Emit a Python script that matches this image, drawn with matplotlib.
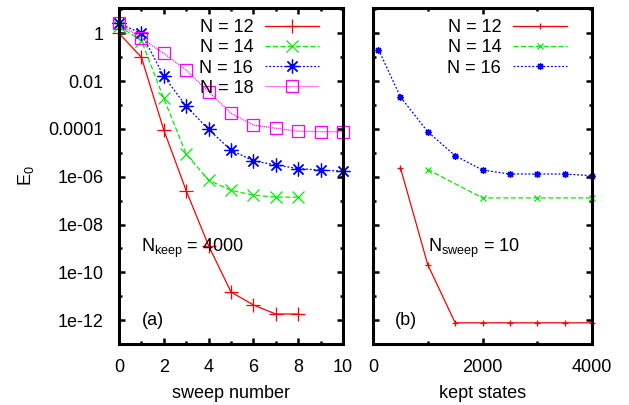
import matplotlib
matplotlib.use("Agg")
import matplotlib.pyplot as plt
from matplotlib.ticker import FixedLocator, NullFormatter

plt.rcParams["font.family"] = ["Liberation Sans", "DejaVu Sans"]
plt.rcParams["mathtext.fontset"] = "custom"
plt.rcParams["mathtext.rm"] = "Liberation Sans"
plt.rcParams["font.size"] = 13

# (a) energy error vs sweep number, N_keep = 4000
sweeps_a = [0, 1, 2, 3, 4, 5, 6, 7, 8]
sweeps_b = [0, 1, 2, 3, 4, 5, 6, 7, 8, 9, 10]
e_n12 = [1.0, 0.1, 9e-5, 2.6e-7, 1.3e-9, 1.5e-11, 4.3e-12, 1.8e-12, 1.8e-12]
e_n14 = [2.0, 0.5, 1.9e-3, 8.9e-6, 7.2e-7, 2.7e-7, 1.7e-7, 1.4e-7, 1.4e-7]
e_n16 = [2.6, 1.0, 0.016, 9e-4, 9.5e-5, 1.3e-5, 4.6e-6, 3.1e-6, 2.2e-6, 1.9e-6, 1.7e-6]
e_n18 = [2.6, 0.62, 0.145, 0.029, 0.0036, 4.5e-4, 1.45e-4, 1.06e-4, 8.1e-5, 7.7e-5, 7.7e-5]

# (b) energy error vs kept states, N_sweep = 10
kept_n12 = [500, 1000, 1500, 2000, 2500, 3000, 3500, 4000]
f_n12 = [2.4e-6, 2.1e-10, 7.7e-13, 7.7e-13, 7.7e-13, 7.7e-13, 7.7e-13, 7.7e-13]
kept_n14 = [1000, 2000, 3000, 4000]
f_n14 = [2.0e-6, 1.3e-7, 1.3e-7, 1.3e-7]
kept_n16 = [100, 500, 1000, 1500, 2000, 2500, 3000, 3500, 4000]
f_n16 = [0.21, 0.0022, 7.6e-5, 7.6e-6, 1.9e-6, 1.3e-6, 1.3e-6, 1.3e-6, 1.1e-6]

ytick_vals = [1, 1e-2, 1e-4, 1e-6, 1e-8, 1e-10, 1e-12]
ytick_labels = ["1", "0.01", "0.0001", "1e-06", "1e-08", "1e-10", "1e-12"]
yminor_vals = [10, 0.1, 1e-3, 1e-5, 1e-7, 1e-9, 1e-11, 1e-13]

red = "#ff0000"
green = "#00ee00"
blue = "#0000ff"
magenta = "#ff00ff"
asterisk = (8, 2, 0)

fig = plt.figure(figsize=(6.29, 4.05), dpi=100)
ax1 = fig.add_axes([119 / 629, 61 / 405, 224 / 629, 336 / 405])
ax2 = fig.add_axes([373 / 629, 61 / 405, 219 / 629, 336 / 405])

kw = dict(lw=0.9, clip_on=False, mew=0.9)
ax1.plot(sweeps_a, e_n12, color=red, marker="+", ms=10, ls="-", label="N = 12", **kw)
ax1.plot(sweeps_a, e_n14, color=green, marker="x", ms=8.5, dashes=(4, 2), label="N = 14", **kw)
ax1.plot(sweeps_b, e_n16, color=blue, marker=asterisk, ms=10, dashes=(1.5, 1.5), label="N = 16", **kw)
ax1.plot(sweeps_b, e_n18, color=magenta, marker="s", ms=8.5, mfc="none", dashes=(0.8, 0.8),
         label="N = 18", **kw)

ax2.plot(kept_n12, f_n12, color=red, marker="+", ms=5, ls="-", label="N = 12", **kw)
ax2.plot(kept_n14, f_n14, color=green, marker="x", ms=4.5, dashes=(4, 2), label="N = 14", **kw)
ax2.plot(kept_n16, f_n16, color=blue, marker=asterisk, ms=5, dashes=(1.5, 1.5), label="N = 16", **kw)

for ax in (ax1, ax2):
    ax.set_yscale("log")
    ax.set_ylim(1e-13, 11.5)
    ax.yaxis.set_major_locator(FixedLocator(ytick_vals))
    ax.yaxis.set_minor_locator(FixedLocator(yminor_vals))
    ax.yaxis.set_minor_formatter(NullFormatter())
    for s in ax.spines.values():
        s.set_linewidth(2.2)
    ax.tick_params(which="both", direction="in", top=True, right=True, width=1.8)
    ax.tick_params(which="major", length=4.5)
    ax.tick_params(which="minor", length=2.5)
    ax.tick_params(axis="y", pad=11)
    ax.tick_params(axis="x", pad=11)

ax1.set_xlim(0, 10)
ax1.set_xticks([0, 2, 4, 6, 8, 10])
ax1.xaxis.set_minor_locator(FixedLocator([1, 3, 5, 7, 9]))
ax1.set_yticklabels(ytick_labels)
ax1.set_xlabel("sweep number", labelpad=6)
ax1.set_ylabel(r"E$_\mathregular{0}$", labelpad=9)

ax2.set_xlim(0, 4000)
ax2.set_xticks([0, 2000, 4000])
ax2.xaxis.set_minor_locator(FixedLocator([1000, 3000]))
ax2.set_yticklabels([])
ax2.set_xlabel("kept states", labelpad=6)

ax1.text(1.0, 1e-9, r"N$_\mathregular{keep}$ = 4000", ha="left", va="center")
ax1.text(1.0, 1e-12, "(a)", ha="left", va="center")
ax2.text(1000, 1e-9, r"N$_\mathregular{sweep}$ = 10", ha="left", va="center")
ax2.text(400, 1e-12, "(b)", ha="left", va="center")

legkw = dict(loc="upper right", frameon=False, markerfirst=False, handlelength=3.0,
             handletextpad=0.65, labelspacing=0.17, borderpad=0, borderaxespad=0)
ax1.legend(bbox_to_anchor=(0.893, 0.966), **legkw)
ax2.legend(bbox_to_anchor=(0.886, 0.966), **legkw)

fig.savefig("out.png", dpi=100)
